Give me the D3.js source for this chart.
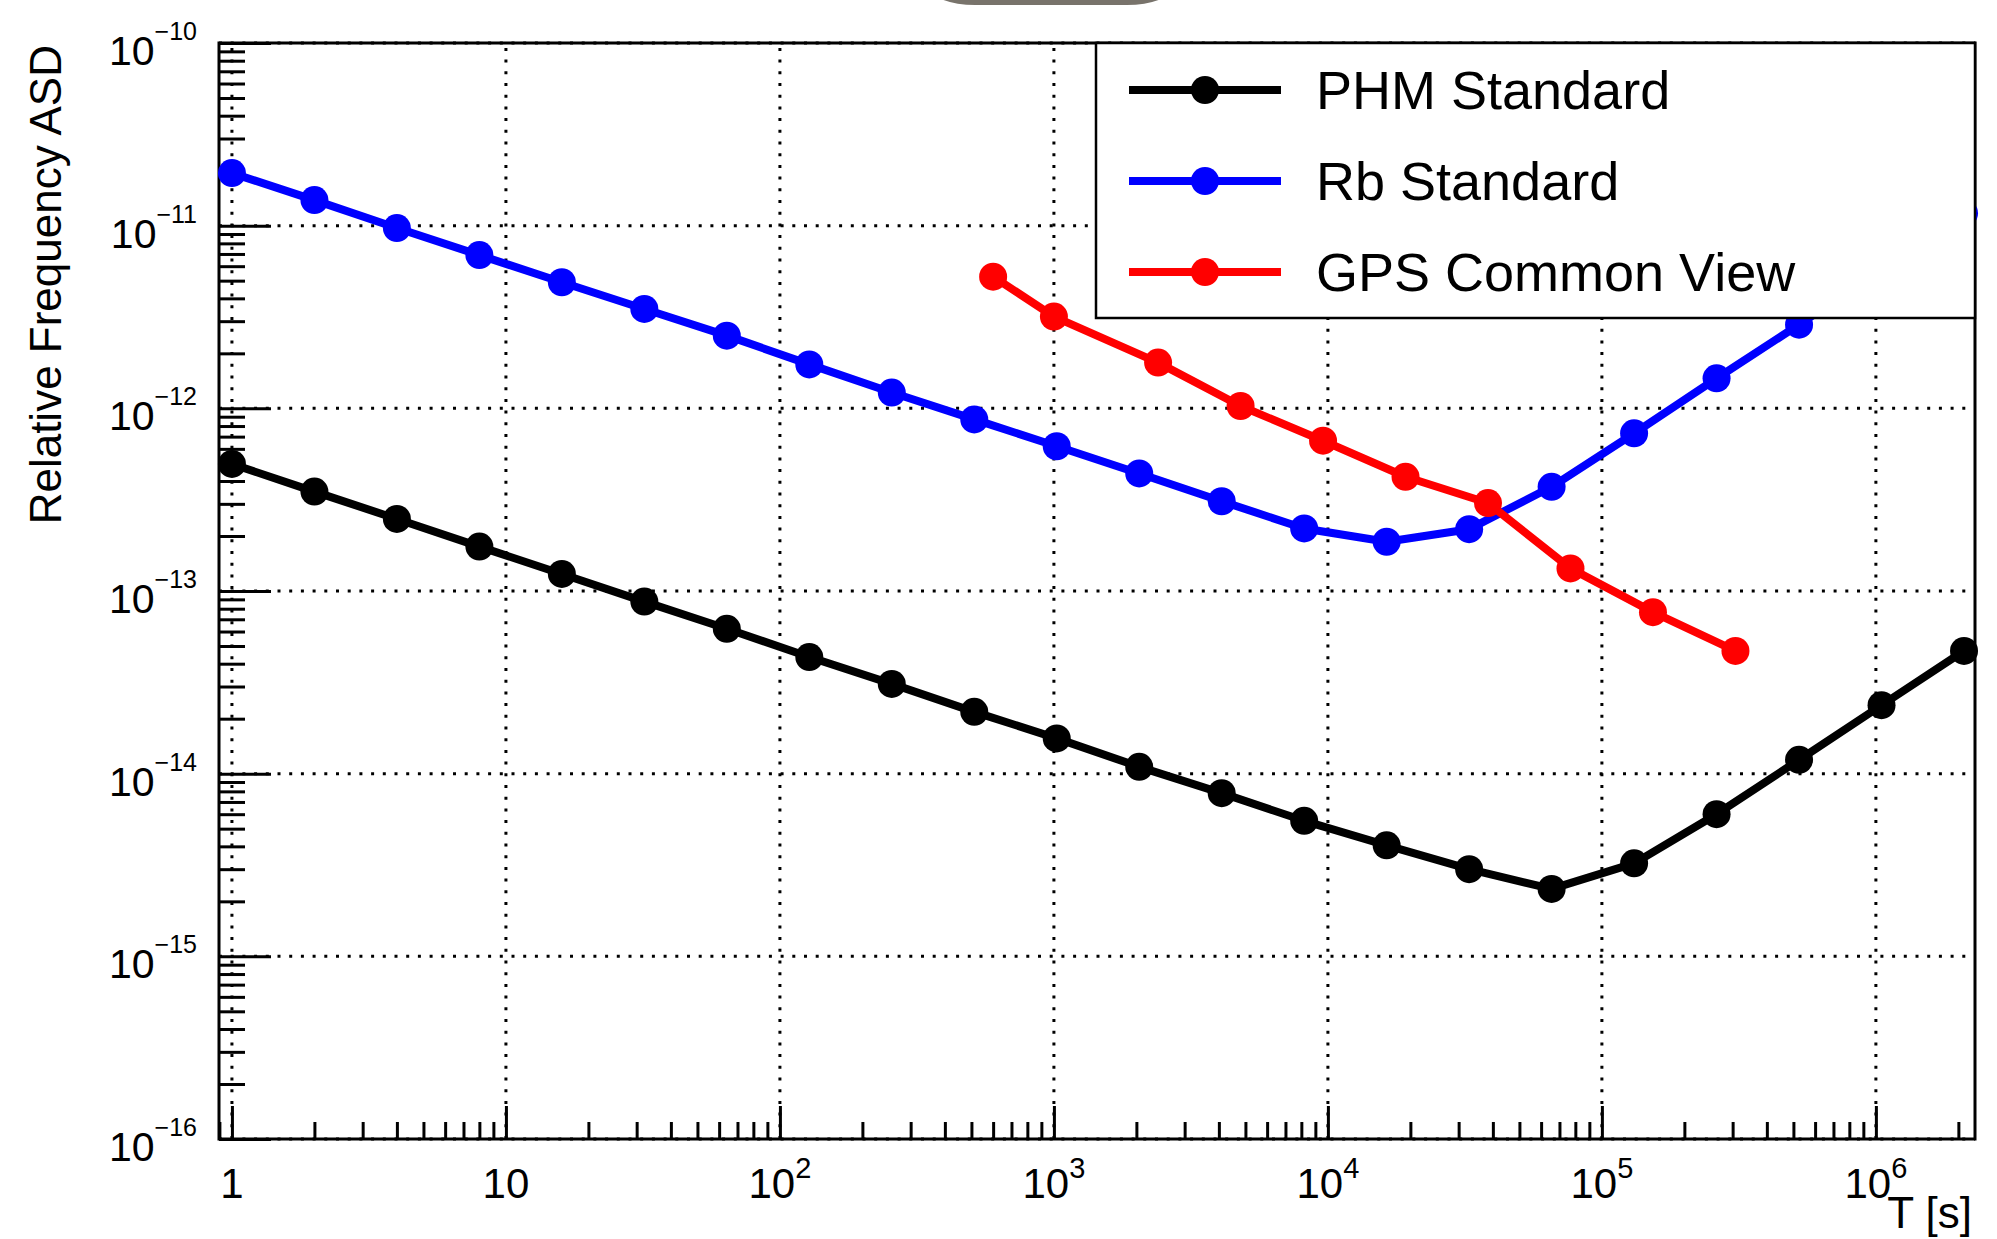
<!DOCTYPE html>
<html>
<head>
<meta charset="utf-8">
<script src="https://cdn.jsdelivr.net/npm/d3@7"></script>
<style>
  body { margin: 0; background: #fff; }
  svg { display: block; font-family: 'Liberation Sans', Arial, Helvetica, sans-serif; }
</style>
</head>
<body>
<script>
// --------------------------------------------------
// data

const phmTau = [1, 2, 4, 8, 16, 32, 64, 128, 256, 512, 1024, 2048, 4096, 8192, 16384, 32768,
  65536, 131072, 262144, 524288, 1048576, 2097152];
const phmAsd = [4.96e-13, 3.5e-13, 2.48e-13, 1.75e-13, 1.24e-13, 8.75e-14, 6.21e-14, 4.35e-14,
  3.1e-14, 2.18e-14, 1.56e-14, 1.09e-14, 7.82e-15, 5.52e-15, 4.05e-15, 3.0e-15, 2.34e-15,
  3.23e-15, 6.0e-15, 1.19e-14, 2.37e-14, 4.7e-14];

const rbTau = [1, 2, 4, 8, 16, 32, 64, 128, 256, 512, 1024, 2048, 4096, 8192, 16384, 32768,
  65536, 131072, 262144, 524288, 1048576, 2097152];
const rbAsd = [1.94e-11, 1.38e-11, 9.7e-12, 6.9e-12, 4.9e-12, 3.5e-12, 2.5e-12, 1.74e-12,
  1.22e-12, 8.7e-13, 6.2e-13, 4.4e-13, 3.1e-13, 2.2e-13, 1.86e-13, 2.18e-13, 3.72e-13,
  7.3e-13, 1.46e-12, 2.87e-12, 5.8e-12, 1.17e-11];

const gpsTau = [600, 1000, 2400, 4800, 9600, 19200, 38400, 76800, 153600, 307200];
const gpsAsd = [5.26e-12, 3.18e-12, 1.78e-12, 1.03e-12, 6.65e-13, 4.22e-13, 3.03e-13,
  1.33e-13, 7.66e-14, 4.7e-14];

const seriesNames = ['PHM Standard', 'Rb Standard', 'GPS Common View'];
const seriesColors = ['#000000', '#0000ff', '#ff0000'];

const xTickValues = [1, 10, 1e2, 1e3, 1e4, 1e5, 1e6];
const xTickBases = ['1', '10', '10', '10', '10', '10', '10'];
const xTickExps = ['', '', '2', '3', '4', '5', '6'];

const yTickValues = [1e-16, 1e-15, 1e-14, 1e-13, 1e-12, 1e-11, 1e-10];
const yTickExps = ['\u221216', '\u221215', '\u221214', '\u221213', '\u221212', '\u221211', '\u221210'];

const xTitle = 'T [s]';
const yTitle = 'Relative Frequency ASD';

// --------------------------------------------------

const width = 1997, height = 1239;
const frame = { left: 219, top: 43, right: 1975, bottom: 1139 };

let x = d3.scaleLog().domain([0.897, 2.3e6]).range([frame.left, frame.right]);
let y = d3.scaleLog().domain([1e-16, 1e-10]).range([frame.bottom, frame.top]);

let svg = d3.select('body').append('svg')
  .attr('width', width)
  .attr('height', height);

svg.append('rect')
  .attr('width', width)
  .attr('height', height)
  .attr('fill', '#fff');

// the grey bit poking in at the top edge
svg.append('rect')
  .attr('x', 930).attr('y', -30)
  .attr('width', 242).attr('height', 35)
  .attr('rx', 45).attr('ry', 30)
  .attr('fill', '#78736b');

// grid
let grid = svg.append('g')
  .attr('stroke', '#000')
  .attr('stroke-width', 3)
  .attr('stroke-dasharray', '3,8.7');

grid.selectAll('line.gx')
  .data(xTickValues)
  .enter()
  .append('line')
  .attr('x1', d => x(d)).attr('x2', d => x(d))
  .attr('y1', frame.bottom).attr('y2', frame.top);

grid.selectAll('line.gy')
  .data(yTickValues)
  .enter()
  .append('line')
  .attr('class', 'gy')
  .attr('y1', d => y(d)).attr('y2', d => y(d))
  .attr('x1', frame.left).attr('x2', frame.right);

// ticks, pointing inwards, root style
let isMajor = v => Math.abs(Math.log10(v) - Math.round(Math.log10(v))) < 1e-6;
let xMinor = x.ticks().filter(v => !isMajor(v));
let yMinor = y.ticks().filter(v => !isMajor(v));

function tickGroup(axis)
{
  let g = svg.append('g').call(axis);
  g.select('.domain').remove();
  g.selectAll('line').attr('stroke', '#000').attr('stroke-width', 3);
  g.selectAll('text').remove();
  return g;
}

tickGroup(d3.axisBottom(x).tickValues(xTickValues).tickSize(-33))
  .attr('transform', `translate(0,${frame.bottom})`);
tickGroup(d3.axisBottom(x).tickValues(xMinor).tickSize(-17))
  .attr('transform', `translate(0,${frame.bottom})`);
tickGroup(d3.axisLeft(y).tickValues(yTickValues).tickSize(-52))
  .attr('transform', `translate(${frame.left},0)`);
tickGroup(d3.axisLeft(y).tickValues(yMinor).tickSize(-26))
  .attr('transform', `translate(${frame.left},0)`);

// frame
svg.append('rect')
  .attr('x', frame.left).attr('y', frame.top)
  .attr('width', frame.right - frame.left)
  .attr('height', frame.bottom - frame.top)
  .attr('fill', 'none')
  .attr('stroke', '#000')
  .attr('stroke-width', 3);

// tick labels
let xl = svg.selectAll('text.xl')
  .data(xTickValues)
  .enter()
  .append('text')
  .attr('class', 'xl')
  .attr('x', d => x(d))
  .attr('y', 1198)
  .attr('text-anchor', 'middle')
  .attr('font-size', 42);
xl.append('tspan').text((d, i) => xTickBases[i]);
xl.append('tspan')
  .attr('font-size', 29)
  .attr('dy', -20)
  .text((d, i) => xTickExps[i]);

let yl = svg.selectAll('text.yl')
  .data(yTickValues)
  .enter()
  .append('text')
  .attr('class', 'yl')
  .attr('x', 197)
  .attr('y', d => y(d) + 22)
  .attr('text-anchor', 'end')
  .attr('font-size', 41);
yl.append('tspan').text('10');
yl.append('tspan')
  .attr('font-size', 25)
  .attr('dy', -25)
  .text((d, i) => yTickExps[i]);

// axis titles
svg.append('text')
  .attr('transform', 'translate(61,45) rotate(-90)')
  .attr('text-anchor', 'end')
  .attr('font-size', 44)
  .text(yTitle);

svg.append('text')
  .attr('x', 1972)
  .attr('y', 1228)
  .attr('text-anchor', 'end')
  .attr('font-size', 44)
  .text(xTitle);

// --------------------------------------------------
// series

let series = [
  { tau: phmTau, asd: phmAsd },
  { tau: rbTau, asd: rbAsd },
  { tau: gpsTau, asd: gpsAsd }
];

let line = d3.line()
  .x(d => x(d[0]))
  .y(d => y(d[1]));

series.forEach(function (s, k)
{
  let pts = s.tau.map((t, i) => [t, s.asd[i]]);
  let g = svg.append('g');

  g.append('path')
    .attr('d', line(pts))
    .attr('fill', 'none')
    .attr('stroke', seriesColors[k])
    .attr('stroke-width', 8)
    .attr('stroke-linejoin', 'round');

  g.selectAll('circle')
    .data(pts)
    .enter()
    .append('circle')
    .attr('cx', d => x(d[0]))
    .attr('cy', d => y(d[1]))
    .attr('r', 14)
    .attr('fill', seriesColors[k]);
});

// --------------------------------------------------
// legend

let legend = svg.append('g');

legend.append('rect')
  .attr('x', 1096).attr('y', frame.top)
  .attr('width', frame.right - 1096)
  .attr('height', 318 - frame.top)
  .attr('fill', '#fff')
  .attr('stroke', '#000')
  .attr('stroke-width', 2.5);

let rowY = d3.scalePoint().domain(seriesNames).range([90, 272]);

let entry = legend.selectAll('g.entry')
  .data(seriesNames)
  .enter()
  .append('g')
  .attr('transform', d => `translate(0,${rowY(d)})`);

entry.append('line')
  .attr('x1', 1129).attr('x2', 1281)
  .attr('stroke', (d, i) => seriesColors[i])
  .attr('stroke-width', 8);

entry.append('circle')
  .attr('cx', 1205)
  .attr('r', 14)
  .attr('fill', (d, i) => seriesColors[i]);

entry.append('text')
  .attr('x', 1316)
  .attr('y', 19)
  .attr('font-size', 54)
  .text(d => d);
</script>
</body>
</html>
